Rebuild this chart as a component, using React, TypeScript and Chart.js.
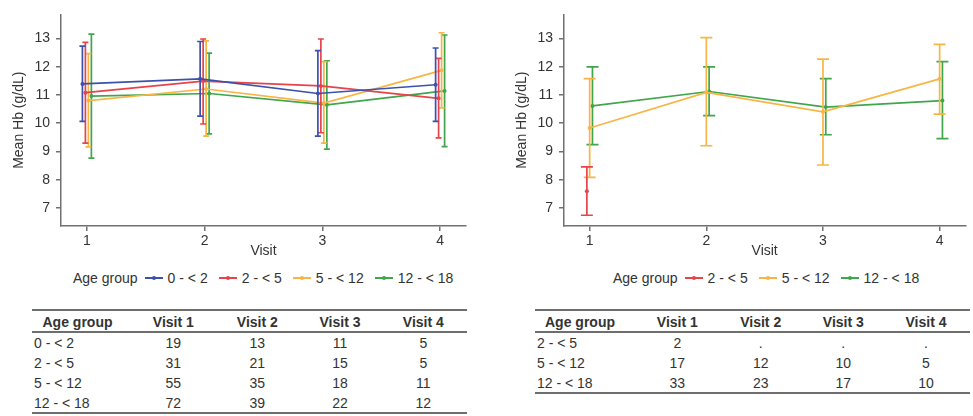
import React, { useEffect, useRef } from 'react';
import { Chart, registerables } from 'chart.js';
Chart.register(...registerables);

// ---------- data ----------
const visits = [1, 2, 3, 4];
const visitHeaders = ['Visit 1', 'Visit 2', 'Visit 3', 'Visit 4'];
const yTickValues = [7, 8, 9, 10, 11, 12, 13];

// Left panel
const leftGroups = ['0 - < 2', '2 - < 5', '5 - < 12', '12 - < 18'];
const leftMean0to2 = [11.39, 11.57, 11.05, 11.36];
const leftLow0to2 = [10.06, 10.25, 9.54, 10.06];
const leftHigh0to2 = [12.73, 12.89, 12.57, 12.66];
const leftMean2to5 = [11.08, 11.49, 11.32, 10.88];
const leftLow2to5 = [9.29, 9.97, 9.66, 9.48];
const leftHigh2to5 = [12.86, 12.98, 12.98, 12.29];
const leftMean5to12 = [10.8, 11.21, 10.71, 11.87];
const leftLow5to12 = [9.16, 9.54, 9.29, 10.54];
const leftHigh5to12 = [12.46, 12.91, 12.18, 13.2];
const leftMean12to18 = [10.96, 11.05, 10.65, 11.14];
const leftLow12to18 = [8.76, 9.62, 9.08, 9.17];
const leftHigh12to18 = [13.15, 12.48, 12.21, 13.12];
const leftCounts0to2 = [19, 13, 11, 5];
const leftCounts2to5 = [31, 21, 15, 5];
const leftCounts5to12 = [55, 35, 18, 11];
const leftCounts12to18 = [72, 39, 22, 12];

// Right panel
const rightGroups = ['2 - < 5', '5 - < 12', '12 - < 18'];
const rightMean2to5 = [7.59, null, null, null];
const rightLow2to5 = [6.74, null, null, null];
const rightHigh2to5 = [8.45, null, null, null];
const rightMean5to12 = [9.83, 11.09, 10.4, 11.57];
const rightLow5to12 = [8.08, 9.2, 8.52, 10.32];
const rightHigh5to12 = [11.58, 13.03, 12.27, 12.79];
const rightMean12to18 = [10.61, 11.12, 10.57, 10.8];
const rightLow12to18 = [9.24, 10.27, 9.59, 9.45];
const rightHigh12to18 = [11.99, 11.99, 11.58, 12.18];
const rightCounts2to5 = [2, null, null, null];
const rightCounts5to12 = [17, 12, 10, 5];
const rightCounts12to18 = [33, 23, 17, 10];

// ---------- styles ----------
const BLUE = '#3a52ad';
const RED = '#e8424b';
const ORANGE = '#f8b545';
const GREEN = '#3fa64c';
const TEXT = '#333333';
const AXIS = '#707070';
const FONT = "'Liberation Sans', Arial, Helvetica, sans-serif";

type Series = {
  label: string;
  color: string;
  mean: (number | null)[];
  low: (number | null)[];
  high: (number | null)[];
};

const leftSeries: Series[] = [
  { label: leftGroups[0], color: BLUE, mean: leftMean0to2, low: leftLow0to2, high: leftHigh0to2 },
  { label: leftGroups[1], color: RED, mean: leftMean2to5, low: leftLow2to5, high: leftHigh2to5 },
  { label: leftGroups[2], color: ORANGE, mean: leftMean5to12, low: leftLow5to12, high: leftHigh5to12 },
  { label: leftGroups[3], color: GREEN, mean: leftMean12to18, low: leftLow12to18, high: leftHigh12to18 },
];
const rightSeries: Series[] = [
  { label: rightGroups[0], color: RED, mean: rightMean2to5, low: rightLow2to5, high: rightHigh2to5 },
  { label: rightGroups[1], color: ORANGE, mean: rightMean5to12, low: rightLow5to12, high: rightHigh5to12 },
  { label: rightGroups[2], color: GREEN, mean: rightMean12to18, low: rightLow12to18, high: rightHigh12to18 },
];

function buildDatasets(series: Series[], dodge: number, cap: number) {
  const n = series.length;
  const ds: any[] = [];
  series.forEach((s, k) => {
    const off = (k - (n - 1) / 2) * dodge;
    visits.forEach((v, i) => {
      const lo = s.low[i];
      const hi = s.high[i];
      if (lo == null || hi == null) return;
      ds.push({
        data: [
          { x: v + off, y: lo },
          { x: v + off, y: hi },
        ],
        borderColor: s.color,
        backgroundColor: s.color,
        borderWidth: 1.7,
        pointStyle: 'line',
        pointRadius: cap,
        pointHoverRadius: cap,
        pointBorderColor: s.color,
        pointBorderWidth: 1.7,
      });
    });
    const pts = visits
      .map((v, i) => (s.mean[i] == null ? null : { x: v + off, y: s.mean[i] as number }))
      .filter((p) => p != null);
    ds.push({
      data: pts,
      borderColor: s.color,
      backgroundColor: s.color,
      borderWidth: 1.7,
      pointStyle: 'circle',
      pointRadius: 2,
      pointHoverRadius: 2,
      pointBorderWidth: 0,
      pointBackgroundColor: s.color,
    });
  });
  return ds;
}

function ChartPanel(props: {
  series: Series[];
  dodge: number;
  cap: number;
  left: number;
  width: number;
  height: number;
  padRight: number;
}) {
  const ref = useRef<HTMLCanvasElement | null>(null);
  useEffect(() => {
    if (!ref.current) return;
    const chart = new Chart(ref.current, {
      type: 'line',
      data: { datasets: buildDatasets(props.series, props.dodge, props.cap) },
      options: {
        animation: false,
        responsive: false,
        events: [],
        layout: { padding: { left: 0, top: 8, right: props.padRight, bottom: 0 } },
        plugins: { legend: { display: false }, tooltip: { enabled: false } },
        scales: {
          x: {
            type: 'linear',
            min: 0.78,
            max: 4.22,
            afterFit: (s: any) => {
              s.height = 36;
            },
            afterBuildTicks: (s: any) => {
              s.ticks = visits.map((v) => ({ value: v }));
            },
            ticks: {
              color: TEXT,
              font: { family: FONT, size: 14 },
              padding: 2,
              callback: (v: any) => String(v),
            },
            grid: { display: true, drawOnChartArea: false, drawTicks: true, tickLength: 5, color: AXIS, lineWidth: 1.5 },
            border: { display: true, color: AXIS, width: 1.5 },
            title: {
              display: true,
              text: 'Visit',
              color: TEXT,
              font: { family: FONT, size: 14 },
              padding: { top: 0, bottom: 2 },
            },
          },
          y: {
            type: 'linear',
            min: 6.36,
            max: 13.85,
            afterFit: (s: any) => {
              s.width = 61;
            },
            afterBuildTicks: (s: any) => {
              s.ticks = yTickValues.map((v) => ({ value: v }));
            },
            ticks: {
              color: TEXT,
              font: { family: FONT, size: 14 },
              padding: 6,
              callback: (v: any) => String(v),
            },
            grid: { display: true, drawOnChartArea: false, drawTicks: true, tickLength: 5, color: AXIS, lineWidth: 1.5 },
            border: { display: true, color: AXIS, width: 1.5 },
            title: {
              display: true,
              text: 'Mean Hb (g/dL)',
              color: TEXT,
              font: { family: FONT, size: 14 },
              padding: { top: 10.5, bottom: 0 },
            },
          },
        },
      } as any,
    });
    return () => chart.destroy();
  }, []);
  return (
    <canvas
      ref={ref}
      width={props.width}
      height={props.height}
      style={{ position: 'absolute', left: props.left, top: 0, width: props.width, height: props.height }}
    />
  );
}

function Legend(props: { left: number; series: Series[] }) {
  return (
    <div
      style={{
        position: 'absolute',
        left: props.left,
        top: 269,
        height: 18,
        display: 'flex',
        alignItems: 'center',
        fontFamily: FONT,
        fontSize: 14,
        color: TEXT,
        whiteSpace: 'nowrap',
      }}
    >
      <span style={{ marginRight: 7 }}>Age group</span>
      {props.series.map((s, i) => (
        <span key={i} style={{ display: 'flex', alignItems: 'center', marginRight: 11 }}>
          <span style={{ position: 'relative', display: 'inline-block', width: 18, height: 2, background: s.color, marginRight: 5 }}>
            <span
              style={{
                position: 'absolute',
                left: 7,
                top: -1,
                width: 4,
                height: 4,
                borderRadius: 2,
                background: s.color,
              }}
            />
          </span>
          <span>{s.label}</span>
        </span>
      ))}
    </div>
  );
}

function CountTable(props: {
  x0: number;
  x1: number;
  headCenter: number;
  textLeft: number;
  colCenters: number[];
  groups: string[];
  counts: (number | null)[][];
}) {
  const rowY = (r: number) => 342.5 + r * 20.1;
  const cells: any[] = [];
  const cell = (key: string, text: string, cx: number, cy: number, bold: boolean, align: 'center' | 'left') => {
    cells.push(
      <div
        key={key}
        style={{
          position: 'absolute',
          left: align === 'center' ? cx - 50 : cx,
          width: 100,
          top: cy - 9,
          height: 18,
          lineHeight: '18px',
          textAlign: align,
          fontWeight: bold ? 'bold' : 'normal',
          fontFamily: FONT,
          fontSize: 14,
          color: TEXT,
          whiteSpace: 'nowrap',
        }}
      >
        {text}
      </div>
    );
  };
  cell('h0', 'Age group', props.headCenter, 321.7, true, 'center');
  visitHeaders.forEach((h, j) => cell('h' + (j + 1), h, props.colCenters[j], 321.7, true, 'center'));
  props.groups.forEach((g, r) => {
    cell('g' + r, g, props.textLeft, rowY(r), false, 'left');
    props.counts[r].forEach((c, j) => cell('c' + r + '_' + j, c == null ? '.' : String(c), props.colCenters[j], rowY(r), false, 'center'));
  });
  const lineStyle = (y: number): any => ({
    position: 'absolute',
    left: props.x0,
    width: props.x1 - props.x0,
    top: y - 1,
    height: 2,
    background: '#6e6e6e',
  });
  const bottomY = rowY(props.groups.length - 1) + 10.5;
  return (
    <>
      <div style={lineStyle(309.5)} />
      <div style={lineStyle(331.8)} />
      <div style={lineStyle(bottomY)} />
      {cells}
    </>
  );
}

export default function App() {
  return (
    <div style={{ position: 'absolute', left: 0, top: 0, width: 973, height: 416, background: '#fff', overflow: 'hidden' }}>
      <ChartPanel series={leftSeries} dodge={0.0254} cap={3} left={0} width={486} height={262} padRight={20} />
      <ChartPanel series={rightSeries} dodge={0.024} cap={6} left={503} width={470} height={262} padRight={4} />
      <Legend left={73} series={leftSeries} />
      <Legend left={613} series={rightSeries} />
      <CountTable
        x0={32}
        x1={467}
        headCenter={77.5}
        textLeft={34}
        colCenters={[173.3, 257.3, 340, 423.3]}
        groups={leftGroups}
        counts={[leftCounts0to2, leftCounts2to5, leftCounts5to12, leftCounts12to18]}
      />
      <CountTable
        x0={535}
        x1={970}
        headCenter={580}
        textLeft={537}
        colCenters={[677.3, 760.7, 843.3, 926]}
        groups={rightGroups}
        counts={[rightCounts2to5, rightCounts5to12, rightCounts12to18]}
      />
    </div>
  );
}
